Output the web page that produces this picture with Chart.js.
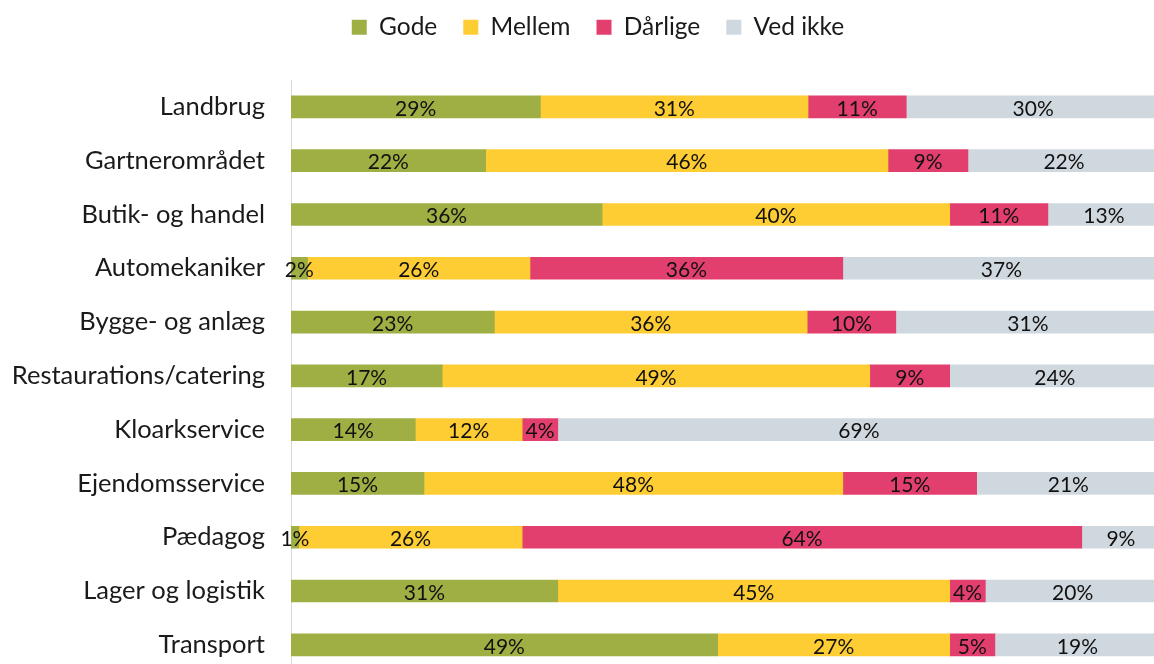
<!DOCTYPE html>
<html>
<head>
<meta charset="utf-8">
<script src="https://cdn.jsdelivr.net/npm/chart.js@4.4.1/dist/chart.umd.min.js"></script>
<style>
  html, body { margin: 0; padding: 0; background: #ffffff; overflow: hidden; }
  #wrap { width: 1162px; height: 713px; }
</style>
</head>
<body>
<div id="wrap"><canvas id="c" width="1162" height="713"></canvas></div>
<script>
const categories = ["Landbrug", "Gartnerområdet", "Butik- og handel", "Automekaniker", "Bygge- og anlæg",
  "Restaurations/catering", "Kloarkservice", "Ejendomsservice", "Pædagog", "Lager og logistik", "Transport"];
const seriesNames = ["Gode", "Mellem", "Dårlige", "Ved ikke"];
const gode    = [28.7, 22.4, 35.8, 1.9, 23.4, 17.4, 14.3, 15.3, 0.9, 30.7, 49.1];
const mellem  = [30.8, 46.3, 40.0, 25.6, 36.0, 49.2, 12.3, 48.2, 25.7, 45.1, 26.7];
const daarlige = [11.3, 9.2, 11.3, 36.0, 10.2, 9.2, 4.1, 15.4, 64.4, 4.1, 5.2];
const vedIkke = [29.5, 22.1, 12.9, 36.6, 30.6, 24.2, 69.3, 21.1, 9.0, 20.1, 19.0];
const colors = ["#9FAF43", "#FECC33", "#E33F6E", "#D0D8DF"];

const FONT = "Lato, 'Open Sans', sans-serif";

const legendPatch = {
  id: 'legendPatch',
  beforeInit(chart) {
    const lg = chart.legend;
    const origFit = lg.fit;
    lg.fit = function () { origFit.call(this); this.height = 80; };
    const origDraw = lg.draw;
    lg.draw = function () {
      const ctx = this.ctx;
      ctx.save();
      ctx.translate(18, -11);
      origDraw.call(this);
      ctx.restore();
    };
  }
};

const valueLabels = {
  id: 'valueLabels',
  afterDatasetsDraw(chart) {
    const ctx = chart.ctx;
    const area = chart.chartArea;
    ctx.save();
    ctx.font = "21px " + FONT;
    ctx.fillStyle = "#111111";
    ctx.textAlign = "center";
    ctx.textBaseline = "middle";
    chart.data.datasets.forEach((ds, i) => {
      const meta = chart.getDatasetMeta(i);
      meta.data.forEach((bar, j) => {
        const v = ds.data[j];
        const x1 = Math.min(bar.x, area.right);
        const x0 = Math.min(bar.base, area.right);
        ctx.fillText(Math.round(v) + "%", (x0 + x1) / 2, bar.y + 2);
      });
    });
    ctx.restore();
  }
};

const dataSeries = [gode, mellem, daarlige, vedIkke];

new Chart(document.getElementById('c'), {
  type: 'bar',
  data: {
    labels: categories,
    datasets: seriesNames.map((name, i) => ({
      label: name,
      data: dataSeries[i],
      backgroundColor: colors[i],
      borderWidth: 0,
      barThickness: 22
    }))
  },
  options: {
    indexAxis: 'y',
    responsive: false,
    animation: false,
    layout: { padding: { left: 0, right: 2, top: 0, bottom: 0 } },
    scales: {
      x: {
        stacked: true,
        display: false,
        min: 0,
        max: 100
      },
      y: {
        stacked: true,
        grid: { display: false, drawTicks: false },
        border: { display: true, color: '#D9D9D9', width: 1 },
        ticks: {
          padding: 26,
          color: '#1a1a1a',
          font: { family: FONT, size: 25.5 },
          autoSkip: false
        },
        afterFit(scale) { scale.width = 291; }
      }
    },
    plugins: {
      legend: {
        position: 'top',
        labels: {
          boxWidth: 15,
          boxHeight: 15,
          padding: 26,
          color: '#1a1a1a',
          font: { family: FONT, size: 24.5 }
        }
      },
      tooltip: { enabled: false }
    }
  },
  plugins: [legendPatch, valueLabels]
});
</script>
</body>
</html>
